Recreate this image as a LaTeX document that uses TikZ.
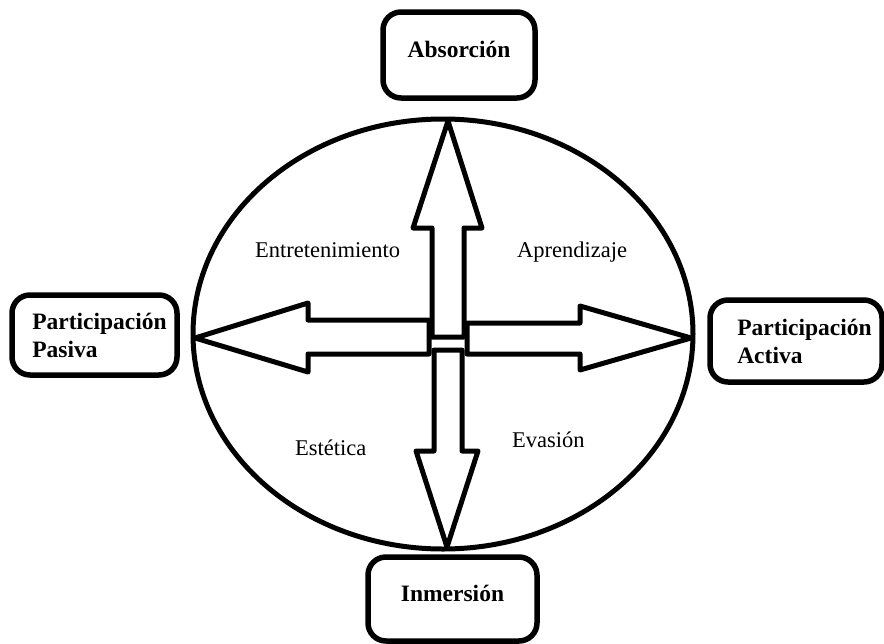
\documentclass[tikz,border=0pt]{standalone}
\usepackage{fontspec}
\setmainfont{Liberation Serif}
\usepackage{tikz}
\usetikzlibrary{shapes.geometric}
\tikzstyle{box} = [draw, line width=5.5pt, rounded corners=18pt, inner sep=0pt, font=\fontsize{23.5}{28}\selectfont\bfseries]
\tikzstyle{tag} = [anchor=base west, inner sep=0pt, font=\fontsize{22.5}{27}\selectfont]
\tikzstyle{blockarrow} = [line width=5pt, line join=round]

\begin{document}
\begin{tikzpicture}[x=1pt, y=-1pt]
    \useasboundingbox (0,0) rectangle (884,643);

    % Ellipse
    \node[draw, ellipse, line width=5pt, minimum width=500pt, minimum height=430pt, inner sep=0pt] (circ) at (443,334) {};

    % Block arrows
    \draw[blockarrow] (432,337) -- (432,228) -- (413,228) -- (448,121) -- (482,228) -- (464,228) -- (464,337) -- cycle;
    \draw[blockarrow] (434,350) -- (434,451) -- (416,451) -- (447,547) -- (478,451) -- (462,451) -- (462,350) -- cycle;
    \draw[blockarrow] (429,320) -- (308,320) -- (308,303) -- (195,338) -- (308,372) -- (308,354) -- (429,354) -- cycle;
    \draw[blockarrow] (467,323) -- (580,323) -- (580,306) -- (691,338) -- (580,370) -- (580,354) -- (467,354) -- cycle;

    % Quadrant labels
    \node[tag] (ent) at (255,257) {Entretenimiento};
    \node[tag] (apr) at (517,257) {Aprendizaje};
    \node[tag] (est) at (295,455) {Estética};
    \node[tag] (eva) at (512,447) {Evasión};

    % Boxes
    \node[box, minimum width=152pt, minimum height=86pt, text depth=12pt] (abs) at (459,55) {Absorción};
    \node[box, minimum width=169pt, minimum height=84pt, text depth=12pt] (inm) at (452.5,599) {Inmersión};
    \node[box, align=left, minimum width=165pt, minimum height=80pt] (pas) at (94.5,335) {\hspace*{10pt}Participación\\\hspace*{10pt}Pasiva};
    \node[box, align=left, minimum width=172pt, minimum height=82pt] (act) at (796,341) {\hspace*{17pt}Participación\\\hspace*{17pt}Activa};
\end{tikzpicture}
\end{document}
